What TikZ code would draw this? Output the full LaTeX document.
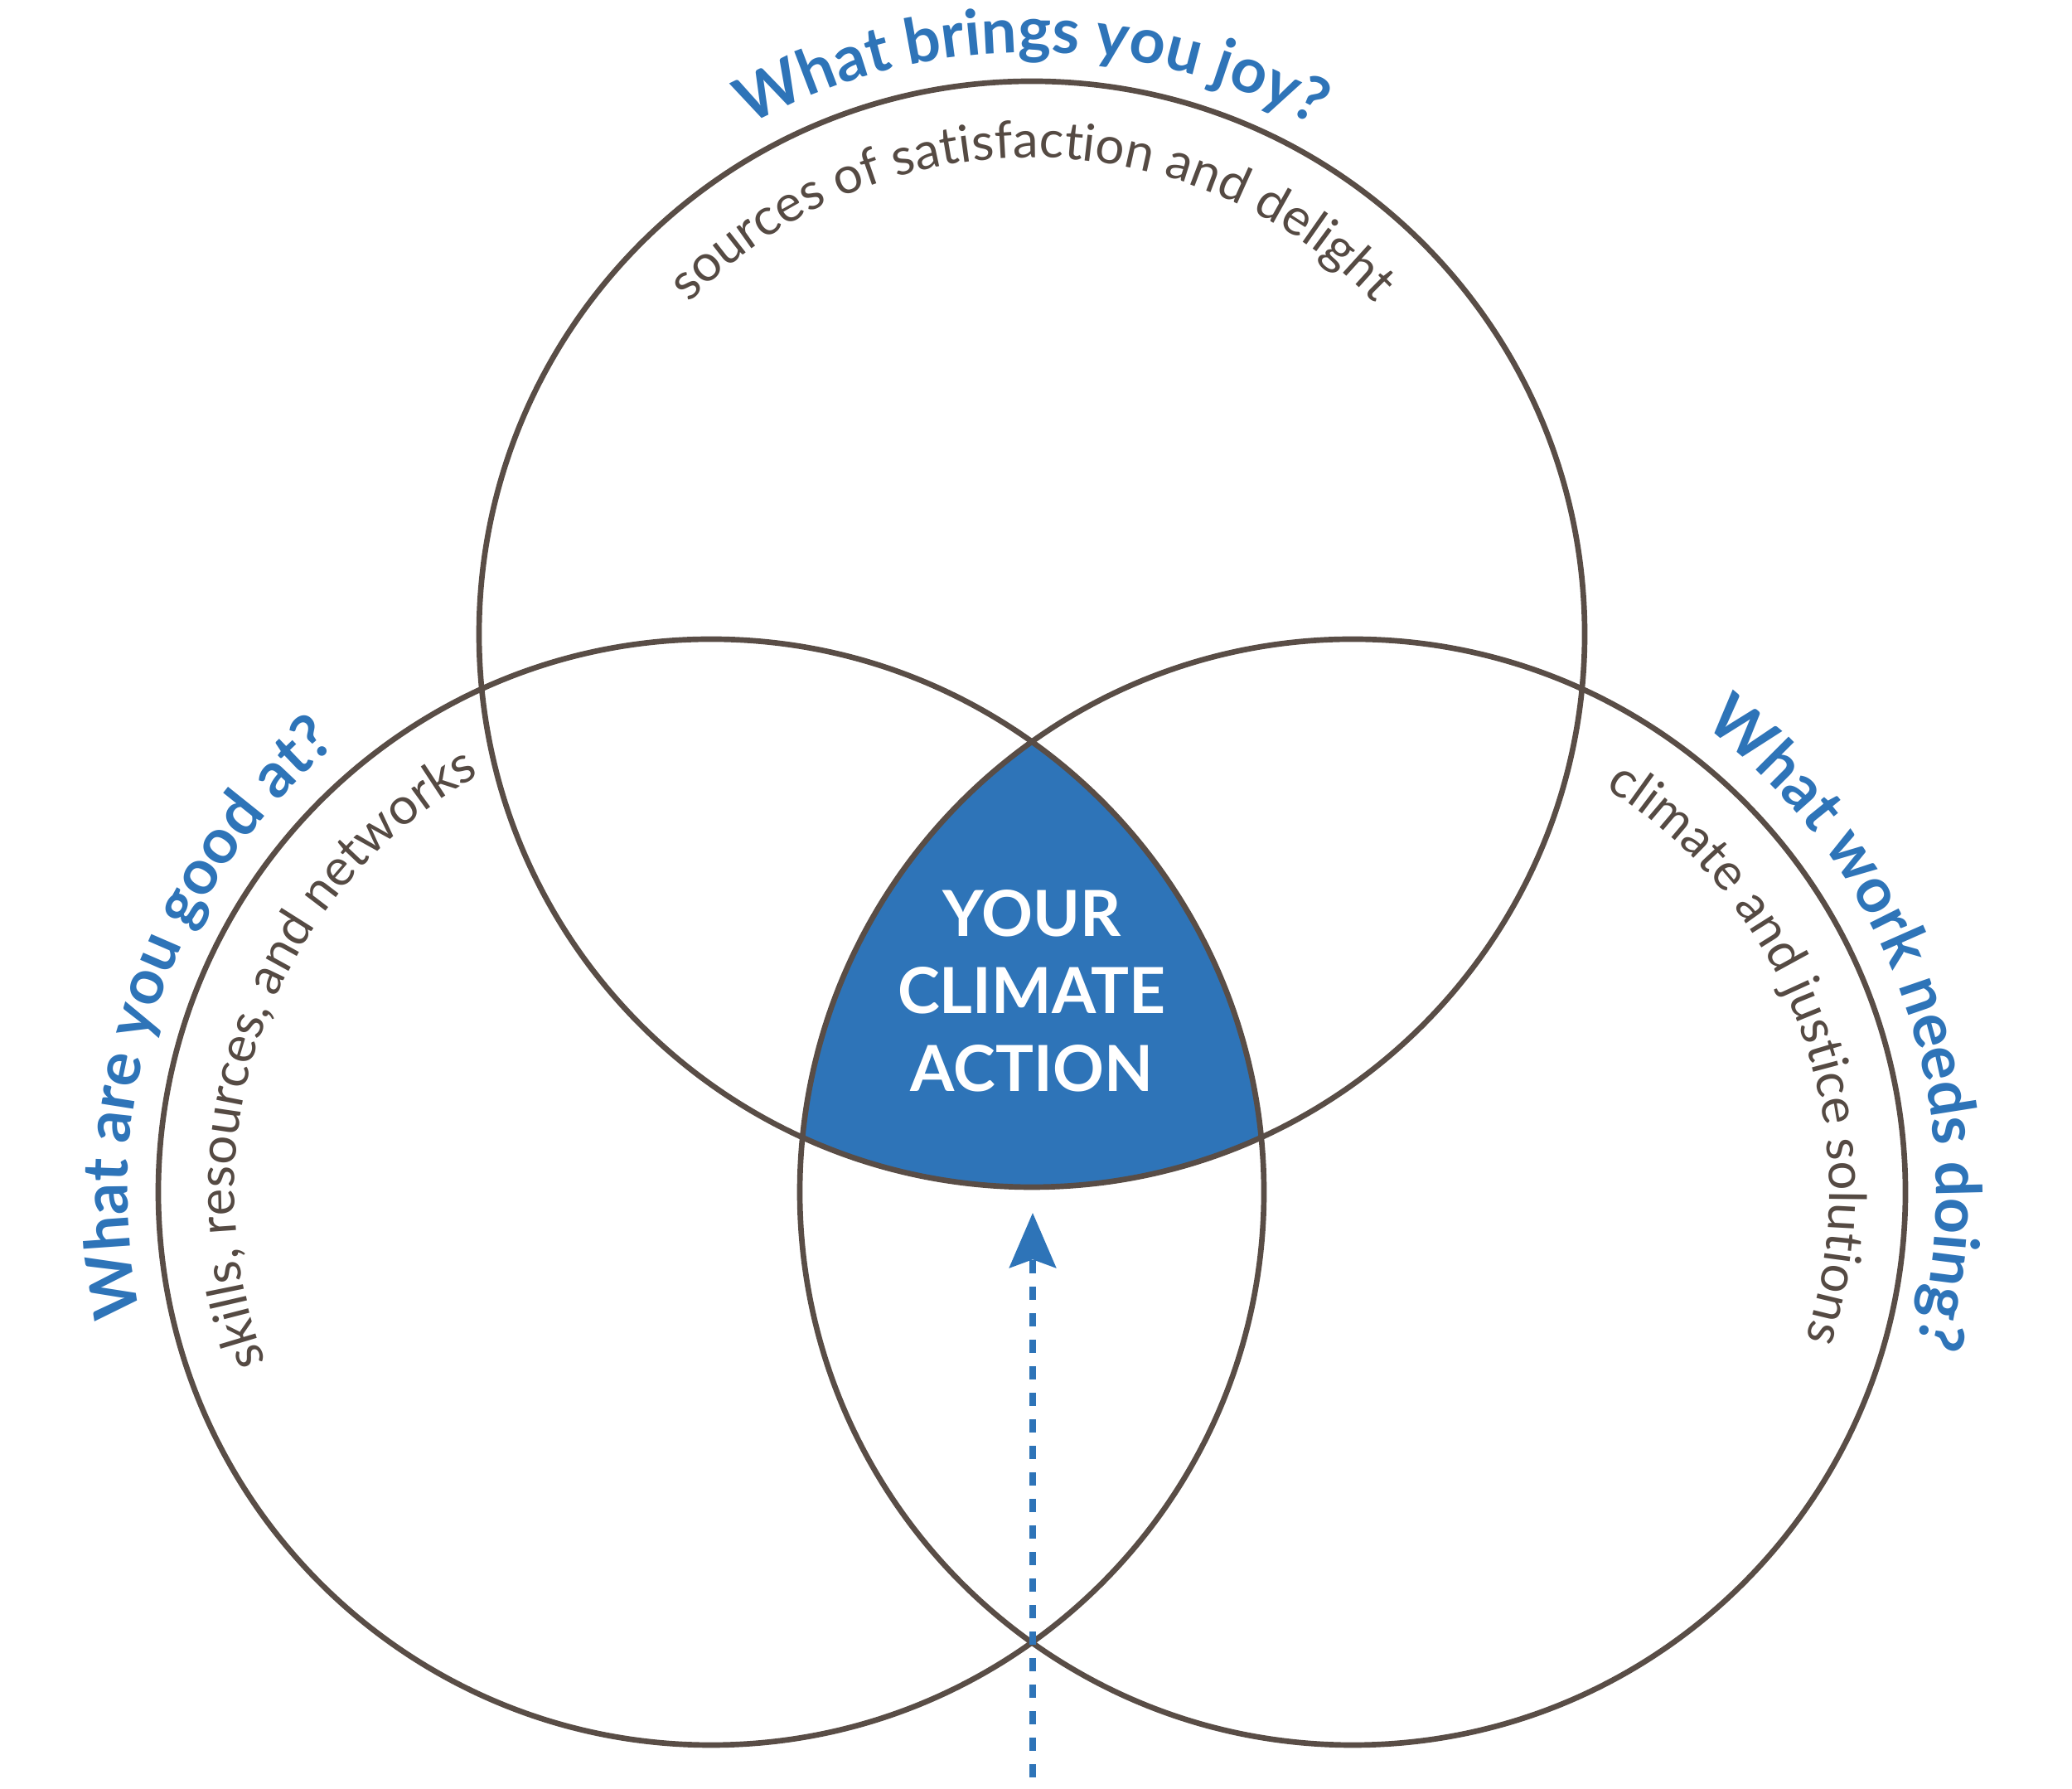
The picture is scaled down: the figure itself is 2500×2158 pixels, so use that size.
\documentclass[tikz,border=0pt]{standalone}
\usepackage{fontspec}
\setmainfont{Lato}
\usetikzlibrary{decorations.text,arrows.meta}
\definecolor{climblue}{HTML}{2E74B8}
\definecolor{ringbrown}{HTML}{594D46}
\definecolor{notegray}{HTML}{554A43}
\newcommand\askfont{\fontsize{21.5}{26}\selectfont\bfseries}
\newcommand\notefont{\fontsize{17.6}{21}\selectfont}
\tikzset{
  ring/.style={draw=ringbrown,line width=1.9pt},
  pointer/.style={draw=climblue,line width=2.3pt,dash pattern=on 4.55pt off 4.55pt,
    -{Stealth[length=18.8pt,width=15.9pt,inset=2.8pt]}},
  asktext/.style={decorate,decoration={text along path,text align=center,
    text color=climblue,text={|\askfont|#1}}},
  notetext/.style={decorate,decoration={text along path,text align=center,
    text color=notegray,text={|\notefont|#1}}}
}
\begin{document}
\begin{tikzpicture}[x=0.01cm,y=0.01cm]
    \useasboundingbox (0,0) rectangle (2500,2158);
    \coordinate (joy) at (1245,1393);
    \coordinate (good) at (858,720);
    \coordinate (work) at (1632,720);
    \begin{scope}
        \clip (good) circle[radius=667];
        \clip (work) circle[radius=667];
        \fill[climblue] (joy) circle[radius=667];
    \end{scope}
    \draw[ring] (joy) circle[radius=667];
    \draw[ring] (good) circle[radius=667];
    \draw[ring] (work) circle[radius=667];
    \node[text=white,font=\fontsize{21.8}{26.6}\selectfont\bfseries,align=center,inner sep=0pt] (action) at (1245,963) {YOUR\\CLIMATE\\ACTION};
    \coordinate (foot) at (1246,14);
    \coordinate (tip) at (1246,695);
    \draw[pointer] (foot) -- (tip);
    \path[asktext={What brings you joy?}] (joy) ++(175:702) arc[start angle=175,end angle=5,radius=702];
    \path[notetext={sources of satisfaction and delight}] (joy) ++(175:575) arc[start angle=175,end angle=5,radius=575];
    \path[asktext={What are you good at?}] (good) ++(246:704) arc[start angle=246,end angle=76,radius=704];
    \path[notetext={skills, resources, and networks}] (good) ++(245:575) arc[start angle=245,end angle=75,radius=575];
    \path[asktext={What work needs doing?}] (work) ++(104:704) arc[start angle=104,end angle=-66,radius=704];
    \path[notetext={climate and justice solutions}] (work) ++(105:575) arc[start angle=105,end angle=-65,radius=575];
\end{tikzpicture}
\end{document}
